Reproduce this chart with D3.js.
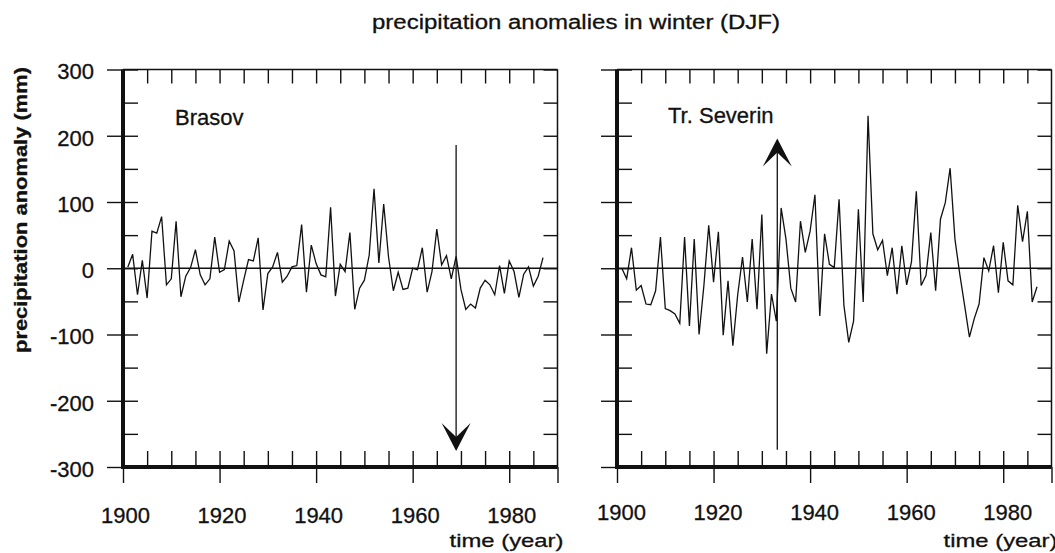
<!DOCTYPE html>
<html>
<head>
<meta charset="utf-8">
<script src="https://cdn.jsdelivr.net/npm/d3@7/dist/d3.min.js"></script>
<style>
  body { margin: 0; background: #fff; }
  svg text { font-family: "Liberation Sans", Arial, sans-serif; fill: #111; stroke: #111; stroke-width: 0.3px; }
  .axis path.domain { display: none; }
  .axis line { stroke: #111; stroke-width: 1.4; }
</style>
</head>
<body>
<div class="layout"></div>
<script>
    // winter (DJF) precipitation anomalies, mm, 1901..1987
    var years = d3.range(1901, 1988);

    var brasov = [2, 21, -40, 12, -45, 56, 53, 78, -25, -16,
                  71, -43, -12, 1, 28, -10, -25, -16, 47, -6,
                  -2, 41, 26, -51, -18, 13, 11, 46, -63, -8,
                  2, 24, -21, -12, 2, 4, 66, -36, 35, 7,
                  -10, -13, 92, -42, 6, -5, 54, -62, -30, -18,
                  20, 120, 8, 97, 17, -34, -6, -32, -30, 0,
                  -2, 31, -36, -5, 59, 5, 19, -16, 18, -32,
                  -62, -54, -60, -30, -18, -25, -40, 4, -38, 11,
                  -5, -44, -9, 2, -27, -12, 16];

    var severin = [0, -16, 31, -33, -26, -54, -55, -34, 47, -61,
                   -64, -69, -83, 47, -87, 44, -100, -26, 65, -21,
                   55, -101, -19, -117, -40, 17, -51, 44, -62, 81,
                   -129, -39, -80, 91, 44, -30, -51, 71, 24, 56,
                   111, -72, 52, 6, 1, 104, -56, -112, -80, 89,
                   -51, 230, 52, 28, 42, -11, 31, -39, 34, -25,
                   10, 116, -26, -11, 54, -34, 74, 99, 151, 44,
                   -9, -56, -104, -76, -54, 16, -4, 34, -37, 39,
                   -19, -25, 95, 40, 86, -51, -28];

    var stations = ["Brasov", "Tr. Severin"];
    var yLabels = [300, 200, 100, 0, -100, -200, -300];
    var yMinor = d3.range(-300, 301, 50);
    var xLabels = [1900, 1920, 1940, 1960, 1980];
    var xMinor = d3.range(1905, 1990, 5);

    // arrows: year, start value, tip value
    var arrows = [
        {year: 1969, from: 186, to: -276},
        {year: 1933.2, from: -274, to: 196}
    ];

    var width = 1055, height = 553;
    var panelLefts = [123, 617],
        panelWidth = 434.5;

    var y = d3.scaleLinear()
            .domain([-300, 300])
            .range([467, 69.5]);

    var svg = d3.select(".layout").append("svg")
            .attr("width", width)
            .attr("height", height);

    svg.append("text")
            .attr("x", 576)
            .attr("y", 29)
            .attr("text-anchor", "middle")
            .attr("textLength", 408)
            .attr("lengthAdjust", "spacingAndGlyphs")
            .style("font-size", "20px")
            .text("precipitation anomalies in winter (DJF)");

    svg.append("text")
            .attr("transform", "translate(27,210) rotate(-90)")
            .attr("text-anchor", "middle")
            .attr("textLength", 286)
            .attr("lengthAdjust", "spacingAndGlyphs")
            .style("font-size", "19px")
            .style("font-weight", "bold")
            .text("precipitation anomaly (mm)");

    [brasov, severin].forEach(function(values, i) {
        var left = panelLefts[i],
            right = left + panelWidth;

        var x = d3.scaleLinear()
                .domain([1900, 1990])
                .range([left, right]);

        var g = svg.append("g");

        // inner ticks: left, right, top, bottom
        g.append("g").attr("class", "axis")
                .attr("transform", "translate(" + left + ",0)")
                .call(d3.axisRight(y).tickValues(yMinor).tickSize(15).tickFormat(""));

        g.append("g").attr("class", "axis")
                .attr("transform", "translate(" + right + ",0)")
                .call(d3.axisLeft(y).tickValues(yMinor).tickSize(14).tickFormat(""));

        g.append("g").attr("class", "axis")
                .attr("transform", "translate(0," + y(300) + ")")
                .call(d3.axisBottom(x).tickValues(xMinor).tickSize(14).tickFormat(""));

        g.append("g").attr("class", "axis")
                .attr("transform", "translate(0," + y(-300) + ")")
                .call(d3.axisTop(x).tickValues(xMinor).tickSize(16).tickFormat(""));

        // outer major ticks with labels (plain hyphen for negatives)
        var yAxis = d3.axisLeft(y)
                .tickValues(yLabels)
                .tickSize(16)
                .tickPadding(13)
                .tickFormat(function(d) { return i === 0 ? String(d) : ""; });

        g.append("g").attr("class", "axis")
                .attr("transform", "translate(" + left + ",0)")
                .call(yAxis)
                .selectAll("text")
                .attr("dy", "0.42em")
                .style("font-size", "22px");

        var xAxis = d3.axisBottom(x)
                .tickValues(xLabels.concat([1990]))
                .tickSize(16)
                .tickPadding(i === 0 ? 24 : 21)
                .tickFormat(function(d) { return d === 1990 ? "" : String(d); });

        g.append("g").attr("class", "axis")
                .attr("transform", "translate(0," + y(-300) + ")")
                .call(xAxis)
                .selectAll("text")
                .attr("dx", i === 0 ? 2 : 4)
                .style("font-size", "22px");

        // frame
        g.append("line")
                .attr("x1", left).attr("x2", right)
                .attr("y1", y(300)).attr("y2", y(300))
                .attr("stroke", "#111").attr("stroke-width", 1.5);

        g.append("line")
                .attr("x1", right).attr("x2", right)
                .attr("y1", y(300)).attr("y2", y(-300))
                .attr("stroke", "#111").attr("stroke-width", 1.5);

        g.append("line")
                .attr("x1", left).attr("x2", left)
                .attr("y1", y(300)).attr("y2", y(-300) + 2)
                .attr("stroke", "#111").attr("stroke-width", 4);

        g.append("line")
                .attr("x1", left).attr("x2", right)
                .attr("y1", y(-300)).attr("y2", y(-300))
                .attr("stroke", "#111").attr("stroke-width", 4);

        // zero line
        g.append("line")
                .attr("x1", left).attr("x2", right)
                .attr("y1", y(0)).attr("y2", y(0))
                .attr("stroke", "#111").attr("stroke-width", 1.5);

        var line = d3.line()
                .x(function(d, j) { return x(years[j]); })
                .y(function(d) { return y(d); });

        g.append("path")
                .datum(values)
                .attr("fill", "none")
                .attr("stroke", "#111")
                .attr("stroke-width", 1.3)
                .attr("stroke-linejoin", "miter")
                .attr("d", line);

        // arrow
        var a = arrows[i],
            ax = x(a.year),
            tip = y(a.to),
            dir = a.to < a.from ? 1 : -1;

        g.append("line")
                .attr("x1", ax).attr("x2", ax)
                .attr("y1", y(a.from)).attr("y2", tip - dir * 10)
                .attr("stroke", "#111").attr("stroke-width", 1.3);

        g.append("path")
                .attr("d", "M" + ax + "," + tip +
                        "L" + (ax - 14.5) + "," + (tip - dir * 28) +
                        "L" + ax + "," + (tip - dir * 14) +
                        "L" + (ax + 14.5) + "," + (tip - dir * 28) + "Z")
                .attr("fill", "#111");

        g.append("text")
                .attr("x", i === 0 ? 175 : 668)
                .attr("y", i === 0 ? 125 : 123)
                .style("font-size", "22px")
                .text(stations[i]);

        g.append("text")
                .attr("x", right + 6)
                .attr("y", 547)
                .attr("text-anchor", "end")
                .attr("textLength", 114)
                .attr("lengthAdjust", "spacingAndGlyphs")
                .style("font-size", "19px")
                .text("time (year)");
    });
</script>
</body>
</html>
